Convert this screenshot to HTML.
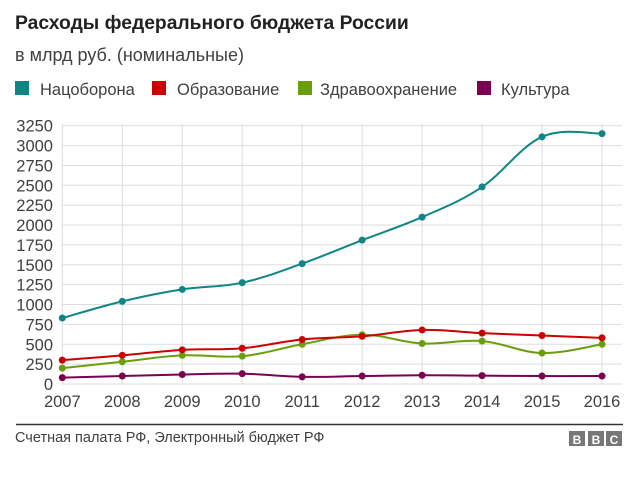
<!DOCTYPE html>
<html><head><meta charset="utf-8"><style>
body{margin:0;background:#fff;width:640px;height:497px;overflow:hidden;font-family:"Liberation Sans",Arial,sans-serif}
</style></head><body>
<svg id="s" width="640" height="497" xmlns="http://www.w3.org/2000/svg" font-family="Liberation Sans, Arial, sans-serif">
<text x="15" y="29" font-size="19.3" font-weight="bold" fill="#222">Расходы федерального бюджета России</text>
<text x="15" y="61" font-size="18" fill="#404040">в млрд руб. (номинальные)</text>
<rect x="15" y="81" width="14" height="14" fill="#0f8586"/><text x="40" y="95" font-size="16.5" fill="#404040">Нацоборона</text>
<rect x="152" y="81" width="14" height="14" fill="#cc0000"/><text x="177" y="95" font-size="16.5" fill="#404040">Образование</text>
<rect x="298" y="81" width="14" height="14" fill="#6b9e0c"/><text x="320" y="95" font-size="16.5" fill="#404040">Здравоохранение</text>
<rect x="477" y="81" width="14" height="14" fill="#7a0052"/><text x="501" y="95" font-size="16.5" fill="#404040">Культура</text>
<g id="grid"></g>
<g id="lines"></g>
<line x1="16" y1="424.5" x2="623" y2="424.5" stroke="#333" stroke-width="1.5"/>
<text x="15" y="442" font-size="14.5" fill="#404040">Счетная палата РФ, Электронный бюджет РФ</text>
<rect x="569" y="431" width="16" height="15" fill="#777"/><rect x="588" y="431" width="16" height="15" fill="#777"/><rect x="606" y="431" width="16" height="15" fill="#777"/>
<text x="577" y="444" font-size="12" font-weight="bold" fill="#fff" text-anchor="middle">B</text>
<text x="596" y="444" font-size="12" font-weight="bold" fill="#fff" text-anchor="middle">B</text>
<text x="614" y="444" font-size="12" font-weight="bold" fill="#fff" text-anchor="middle">C</text>
</svg>
<script>
function X(i){return 62.3+i*59.97}
function Y(v){return 384-v*258.3/3250}
var g=document.getElementById('grid'),L=document.getElementById('lines'),h='';
for(var v=0;v<=3250;v+=250){var y=Y(v);h+='<line x1="62" x2="622" y1="'+y+'" y2="'+y+'" stroke="#ddd" stroke-width="1"/>';
h+='<text x="53" y="'+(y+6)+'" font-size="16.5" fill="#404040" text-anchor="end">'+v+'</text>';}
for(var i=0;i<10;i++){var x=X(i);h+='<line x1="'+x+'" x2="'+x+'" y1="124" y2="384" stroke="#ddd"/>';
h+='<text x="'+x+'" y="407" font-size="16.5" fill="#404040" text-anchor="middle">'+(2007+i)+'</text>';}
g.innerHTML=h;
var data=[["#7a0052",[80,100,120,130,90,100,110,105,100,100]],
["#6b9e0c",[200,280,360,350,500,620,510,540,390,500]],
["#cc0000",[300,360,430,450,560,600,680,640,610,580]],
["#0f8586",[830,1040,1190,1275,1515,1810,2100,2480,3110,3150]]];
var o='';
data.forEach(function(d){var p=d[1].map(function(v,i){return [X(i),Y(v)]});
var s='M'+p[0][0]+','+p[0][1];
for(var i=0;i<p.length-1;i++){var p0=p[i-1]||p[i],p1=p[i],p2=p[i+1],p3=p[i+2]||p2,t=0.18;
s+=' C'+(p1[0]+(p2[0]-p0[0])*t)+','+(p1[1]+(p2[1]-p0[1])*t)+' '+(p2[0]-(p3[0]-p1[0])*t)+','+(p2[1]-(p3[1]-p1[1])*t)+' '+p2[0]+','+p2[1];}
o+='<path d="'+s+'" fill="none" stroke="'+d[0]+'" stroke-width="2"/>';
p.forEach(function(q){o+='<circle cx="'+q[0]+'" cy="'+q[1]+'" r="3.5" fill="'+d[0]+'"/>'});});
L.innerHTML=o;
</script>
</body></html>
